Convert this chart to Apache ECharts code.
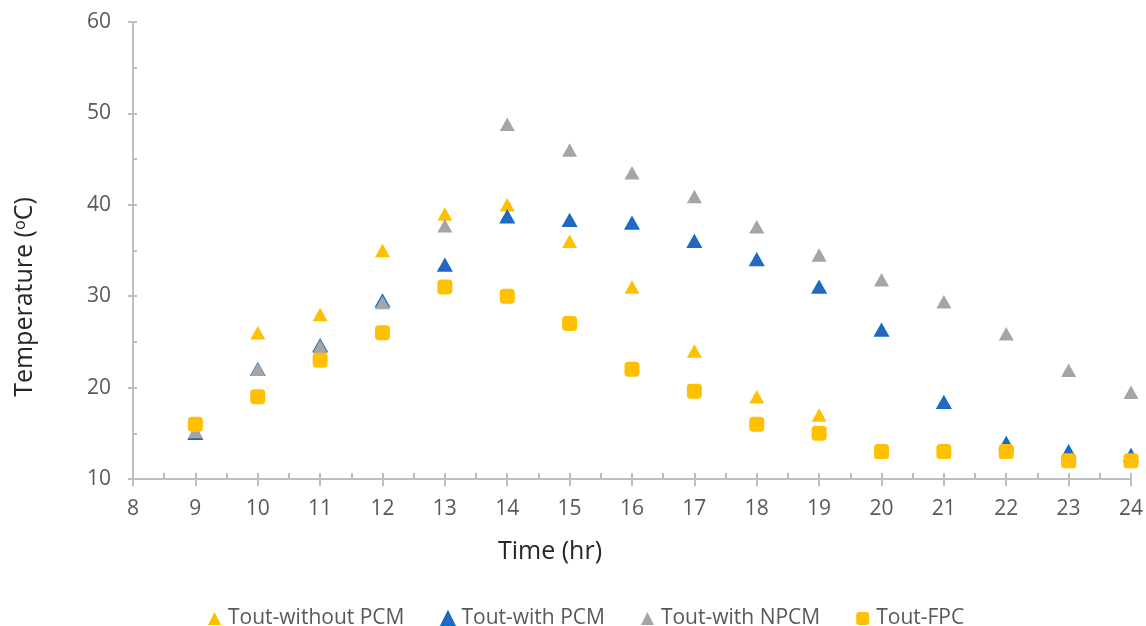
<!DOCTYPE html>
<html>
<head>
<meta charset="utf-8">
<script src="https://cdn.jsdelivr.net/npm/echarts@6/dist/echarts.min.js"></script>
<style>
  html, body { margin: 0; padding: 0; background: #fff; }
  #chart { width: 1146px; height: 626px; }
</style>
</head>
<body>
<div id="chart"></div>
<script>
// Hour of day
const hours = [9, 10, 11, 12, 13, 14, 15, 16, 17, 18, 19, 20, 21, 22, 23, 24];

// Outlet temperatures (°C)
const toutWithoutPCM = [15, 26, 28, 35, 39, 40, 36, 31, 24, 19, 17, 13, 13, 13, 12, 12];
const toutWithPCM    = [15, 22, 24.6, 29.5, 33.4, 38.7, 38.3, 38, 36, 34, 31, 26.3, 18.4, 13.9, 13, 12.6];
const toutWithNPCM   = [15.2, 22, 24.5, 29.3, 37.7, 48.8, 46, 43.5, 40.9, 37.6, 34.5, 31.8, 29.4, 25.9, 21.9, 19.5];
const toutFPC        = [16, 19, 23, 26, 31, 30, 27, 22, 19.6, 16, 15, 13, 13, 13, 12, 12];

const seriesNames = ['Tout-without PCM', 'Tout-with PCM', 'Tout-with NPCM', 'Tout-FPC'];

const pairs = arr => hours.map((h, i) => [h, arr[i]]);

const FONT = '"Open Sans", "Noto Sans", sans-serif';
const AXIS_GREY = '#bfbfbf';
const LABEL_GREY = '#595959';
const TITLE_GREY = '#262626';

const chart = echarts.init(document.getElementById('chart'));

const tickStyle = { color: AXIS_GREY, width: 2 };

chart.setOption({
  animation: false,
  grid: { left: 133, right: 12, top: 22, bottom: 147 },
  xAxis: [
    {
      type: 'value', min: 8, max: 24, interval: 1,
      axisLine: { lineStyle: { color: AXIS_GREY, width: 2 } },
      axisTick: { show: true, length: 7, lineStyle: tickStyle },
      axisLabel: { color: LABEL_GREY, fontSize: 21, fontFamily: FONT, margin: 20 },
      splitLine: { show: false }
    },
    {
      // half-hour marks drawn on the plot side of the axis
      type: 'value', min: 8, max: 24, interval: 0.5, position: 'bottom',
      axisLine: { show: false },
      axisTick: { show: true, inside: true, length: 6, lineStyle: tickStyle },
      axisLabel: { show: false },
      splitLine: { show: false }
    }
  ],
  yAxis: [
    {
      type: 'value', min: 10, max: 60, interval: 10,
      axisLine: { show: true, lineStyle: { color: AXIS_GREY, width: 2 } },
      axisTick: { show: true, length: 5, lineStyle: tickStyle },
      axisLabel: { color: LABEL_GREY, fontSize: 21, fontFamily: FONT, margin: 22 },
      splitLine: { show: false }
    },
    {
      // 5-degree marks drawn on the plot side of the axis
      type: 'value', min: 10, max: 60, interval: 5, position: 'left',
      axisLine: { show: false },
      axisTick: { show: true, inside: true, length: 4, lineStyle: tickStyle },
      axisLabel: { show: false },
      splitLine: { show: false }
    }
  ],
  legend: {
    top: 603,
    left: 203,
    itemGap: 36,
    itemWidth: 13,
    itemHeight: 13,
    textStyle: { color: LABEL_GREY, fontSize: 21, fontFamily: FONT, padding: [0, 0, 0, 2] },
    data: seriesNames
  },
  graphic: [
    {
      type: 'text', x: 550, y: 552,
      style: { text: 'Time (hr)', fill: TITLE_GREY, fontSize: 25, fontFamily: FONT,
               textAlign: 'center', textVerticalAlign: 'middle' }
    },
    {
      type: 'text', x: 25, y: 297, rotation: Math.PI / 2,
      style: { text: 'Temperature (ᵒC)', fill: TITLE_GREY, fontSize: 25, fontFamily: FONT,
               textAlign: 'center', textVerticalAlign: 'middle' }
    }
  ],
  series: [
    {
      name: seriesNames[0], type: 'scatter', symbol: 'triangle', symbolSize: [15, 13.5],
      itemStyle: { color: '#FFC000', opacity: 1 },
      data: pairs(toutWithoutPCM)
    },
    {
      name: seriesNames[1], type: 'scatter', symbol: 'triangle', symbolSize: [13.5, 12],
      itemStyle: { color: '#2F63BE', borderColor: '#0A70C8', borderWidth: 1.5, opacity: 1 },
      data: pairs(toutWithPCM)
    },
    {
      name: seriesNames[2], type: 'scatter', symbol: 'triangle', symbolSize: [15, 13.5],
      itemStyle: { color: '#A5A5A5', opacity: 1 },
      data: pairs(toutWithNPCM)
    },
    {
      name: seriesNames[3], type: 'scatter', symbol: 'roundRect', symbolSize: 15,
      itemStyle: { color: '#FFC000', opacity: 1 },
      data: pairs(toutFPC)
    }
  ]
});
</script>
</body>
</html>
